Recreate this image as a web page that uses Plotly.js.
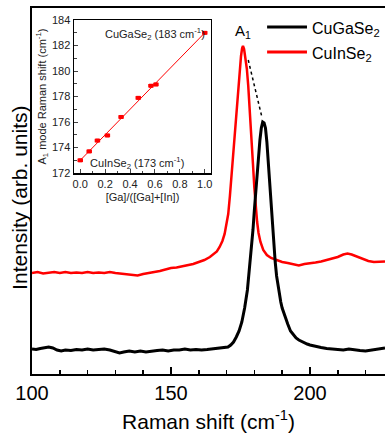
<!DOCTYPE html>
<html>
<head>
<meta charset="utf-8">
<script src="https://cdn.plot.ly/plotly-3.0.1.min.js"></script>
<style>html,body{margin:0;padding:0;background:#fff;}#chart{width:385px;height:439px;}</style>
</head>
<body>
<div id="chart"></div>
<script>
// Main Raman spectra (x: Raman shift cm-1, y: intensity arb. units)
const cgsX = [100,101.5,103,105,106,107.5,109,110.5,112,114,116,118,120,122,124,126,128,130,131.5,133,135,137,139,141,143,145,147,149,151,153,155,157,159,161,163,165,167,169,170.5,171.5,172.5,173.5,174.5,175.5,176.5,177.5,178.5,179,179.5,180,180.5,181,181.5,182,182.5,183,183.5,184,184.5,185,185.5,186,186.5,187,187.5,188,188.5,189,189.5,190,191,192,193,194,195,196,197,198,199,200,202,204,206,208,210,212,214,216,218,220,222,224,226,227];
const cgsY = [25,24.5,25.5,26.5,27,26,24,23,24,23.5,24.5,24,25,24,24.5,25,24,22.5,21,22,23,22,23,22,23,23.5,24,23,24,24,25,24,24.5,24,24.5,25,25.5,26,27,29,32,37,43,52,66,84,111,124,144,164,184,202,219,234,246,252,251,246,232,212,190,168,147,128,112,98,88,79,72,66,57,50,43,39,36,34,32.5,31,30,29,27.5,26.5,25.5,25,24.5,24,25,24,23.5,23,24,24.5,25.5,26];

const cisX = [100,102,104,106,108,110,112,114,116,118,120,122,124,126,128,130,132,134,136,138,140,142,144,146,148,150,152,154,156,158,160,162,164,165.5,166.5,167.5,168.5,169.3,170,170.6,171.2,171.8,172.4,173,173.6,174.2,174.7,175.2,175.6,175.9,176.3,176.8,177.3,177.8,178.4,179,179.5,180,180.5,181,181.5,182.2,183.2,184.5,186,187.5,189,190,192,194,196,198,200,202,204,206,208,210,212,213.5,215,217,219,221,223,225,227];
const cisY = [101,102,100.5,101.5,102,101,102,101,101.5,101,102,101,101.5,101,102,101,100.5,100,99.5,98.5,100,101,101.5,103,104.5,106,106.5,107.5,108.5,110,112,114,117,120,122.5,127,133,140,149,160,178,200,222,244,265,288,305,318,326,328,325,317,305,288,264,234,210,186,166,152,141,132,124,119,116,114.5,113.5,112,111,110,108.5,110,110.5,111.5,112.5,114,115.5,117,119.5,120.5,119.5,117.5,115,113,112,112.5,112.5];

// Dotted guide between A1 peaks
const shiftX = [177.8, 182.7];
const shiftY = [314, 257];

// Inset: A1 mode position vs composition
const gaRatio = [0.0, 0.072, 0.138, 0.218, 0.328, 0.466, 0.568, 0.608, 1.0];
const a1Shift = [173.0, 173.7, 174.55, 174.95, 176.4, 177.9, 178.85, 178.95, 183.0];
const fitX = [0.0, 1.0];
const fitY = [173.0, 183.0];

const seriesNames = ['CuGaSe<sub>2</sub>', 'CuInSe<sub>2</sub>'];
const seriesColors = ['#000000', '#ff0000'];
const xTickVals = [100, 150, 200];
const insetXTicks = [0, 0.2, 0.4, 0.6, 0.8, 1.0];
const insetYTicks = [172, 174, 176, 178, 180, 182, 184];

const FONT = 'Liberation Sans, Arial, sans-serif';

const traces = [
  {x: cisX, y: cisY, type: 'scatter', mode: 'lines', name: seriesNames[1], showlegend: false,
   line: {color: seriesColors[1], width: 2.5}, xaxis: 'x', yaxis: 'y'},
  {x: cgsX, y: cgsY, type: 'scatter', mode: 'lines', name: seriesNames[0], showlegend: false,
   line: {color: seriesColors[0], width: 3}, xaxis: 'x', yaxis: 'y'},
  {x: shiftX, y: shiftY, type: 'scatter', mode: 'lines', showlegend: false,
   line: {color: '#000000', width: 1.5, dash: 'dot'}, xaxis: 'x', yaxis: 'y'},
  {x: fitX, y: fitY, type: 'scatter', mode: 'lines', showlegend: false,
   line: {color: '#ff0000', width: 1}, xaxis: 'x2', yaxis: 'y2'},
  {x: gaRatio, y: a1Shift, type: 'scatter', mode: 'markers', showlegend: false,
   marker: {color: '#ff0000', symbol: 'square', size: 4},
   error_x: {type: 'constant', value: 0.022, color: '#ff0000', thickness: 3.5, width: 0},
   xaxis: 'x2', yaxis: 'y2'}
];

// Legend drawn as keys (line samples) + labels in paper coordinates
const legendRowsY = [0.948, 0.880];
const legendShapes = seriesNames.map((n, i) => ({
  type: 'line', xref: 'paper', yref: 'paper', x0: 0.666, x1: 0.779, y0: legendRowsY[i], y1: legendRowsY[i],
  line: {color: seriesColors[i], width: 3}
}));
const legendLabels = seriesNames.map((n, i) => ({
  text: n, xref: 'paper', yref: 'paper', x: 0.788, y: legendRowsY[i] - 0.006,
  xanchor: 'left', yanchor: 'middle', showarrow: false, font: {size: 16}
}));

const layout = {
  width: 385, height: 439,
  margin: {l: 32, r: 0, t: 8, b: 65},
  paper_bgcolor: '#ffffff', plot_bgcolor: '#ffffff',
  font: {family: FONT, color: '#000'},
  showlegend: false,
  xaxis: {range: [100, 227], showline: true, linewidth: 2, linecolor: '#000', mirror: true,
          ticks: 'inside', ticklen: 7, tickwidth: 1.5, tickcolor: '#000', tickvals: xTickVals,
          minor: {dtick: 10, tick0: 100, ticks: 'inside', ticklen: 4, tickwidth: 1.5, tickcolor: '#000'},
          showgrid: false, zeroline: false, tickfont: {size: 20},
          title: {text: 'Raman shift (cm<sup>-1</sup>)', font: {size: 21}, standoff: 11},
          domain: [0, 1]},
  yaxis: {range: [0, 366], showline: true, linewidth: 2, linecolor: '#000', mirror: false,
          ticks: '', showticklabels: false, showgrid: false, zeroline: false, domain: [0, 1]},
  xaxis2: {domain: [0.119, 0.507], anchor: 'y2', range: [-0.05, 1.05], showline: true, linewidth: 1.5,
           linecolor: '#000', mirror: true, ticks: 'inside', ticklen: 4, tickwidth: 1, tickvals: insetXTicks,
           tickformat: '.1f', minor: {dtick: 0.1, tick0: 0, ticks: 'inside', ticklen: 2.5, tickwidth: 1},
           showgrid: false, zeroline: false, tickfont: {size: 11, color: '#222'},
           title: {text: '[Ga]/([Ga]+[In])', font: {size: 11, color: '#222'}, standoff: 4}},
  yaxis2: {domain: [0.549, 0.967], anchor: 'x2', range: [172, 184], showline: true, linewidth: 1.5,
           linecolor: '#000', mirror: true, ticks: 'inside', ticklen: 4, tickwidth: 1, tickvals: insetYTicks,
           minor: {dtick: 1, tick0: 172, ticks: 'inside', ticklen: 2.5, tickwidth: 1},
           showgrid: false, zeroline: false, tickfont: {size: 11, color: '#222'},
           title: {text: 'A<sub>1</sub> mode Raman shift (cm<sup>-1</sup>)', font: {size: 11, color: '#222'}, standoff: 3}},
  shapes: legendShapes,
  annotations: [
    {text: 'Intensity (arb. units)', xref: 'paper', yref: 'paper', x: -0.036, y: 0.482,
     xanchor: 'center', yanchor: 'middle', textangle: -90, showarrow: false, font: {size: 21}},
    {text: 'A<sub>1</sub>', xref: 'x', yref: 'y', x: 176, y: 343, showarrow: false, font: {size: 15}},
    {text: 'CuGaSe<sub>2</sub> (183 cm<sup>-1</sup>)', xref: 'x2', yref: 'y2', x: 1.02, y: 182.9,
     xanchor: 'right', yanchor: 'middle', showarrow: false, font: {size: 11, color: '#222'}},
    {text: 'CuInSe<sub>2</sub> (173 cm<sup>-1</sup>)', xref: 'x2', yref: 'y2', x: 0.065, y: 172.8,
     xanchor: 'left', yanchor: 'middle', showarrow: false, font: {size: 11, color: '#222'}}
  ].concat(legendLabels)
};

Plotly.newPlot('chart', traces, layout, {staticPlot: true, displayModeBar: false});
</script>
</body>
</html>
